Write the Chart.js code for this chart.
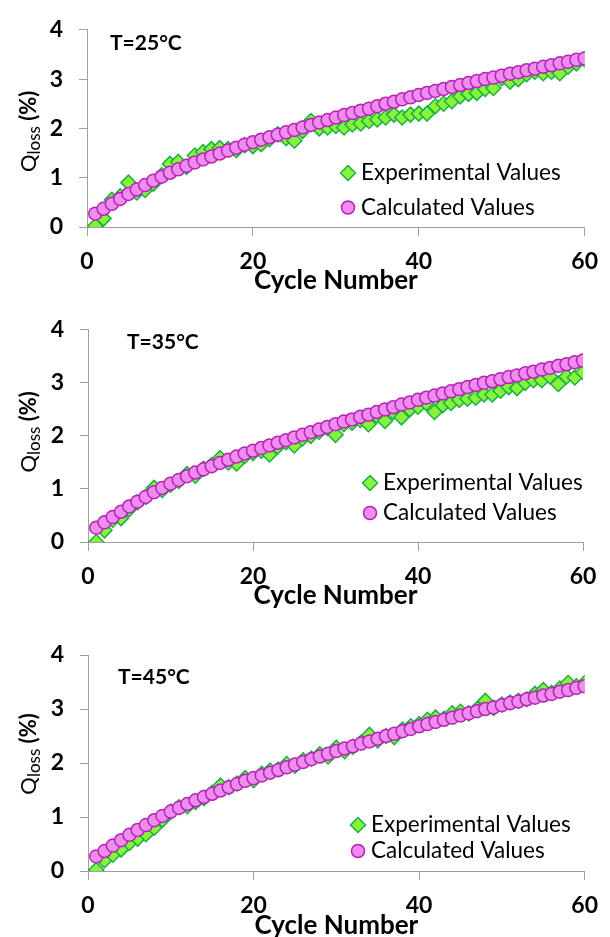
<!DOCTYPE html>
<html>
<head>
<meta charset="utf-8">
<script src="https://cdn.jsdelivr.net/npm/chart.js@4.4.0/dist/chart.umd.min.js"></script>
<style>
  html, body { margin: 0; padding: 0; background: #fff; overflow: hidden; }
  #page { position: relative; width: 610px; height: 937px; overflow: hidden; }
  canvas { position: absolute; left: 0; }
</style>
</head>
<body>
<div id="page">
  <canvas id="chart25" width="610" height="300" style="top:0px"></canvas>
  <canvas id="chart35" width="610" height="320" style="top:300px"></canvas>
  <canvas id="chart45" width="610" height="330" style="top:620px"></canvas>
</div>
<script>
/* ---------- datos ---------- */
const cycles = [1, 2, 3, 4, 5, 6, 7, 8, 9, 10, 11, 12, 13, 14, 15, 16, 17, 18, 19, 20,
  21, 22, 23, 24, 25, 26, 27, 28, 29, 30, 31, 32, 33, 34, 35, 36, 37, 38, 39, 40,
  41, 42, 43, 44, 45, 46, 47, 48, 49, 50, 51, 52, 53, 54, 55, 56, 57, 58, 59, 60];

const calculated = [0.27, 0.37, 0.47, 0.57, 0.67, 0.76, 0.85, 0.94, 1.02, 1.10,
  1.17, 1.24, 1.31, 1.37, 1.43, 1.49, 1.55, 1.61, 1.67, 1.72,
  1.77, 1.82, 1.87, 1.92, 1.97, 2.02, 2.07, 2.12, 2.17, 2.22,
  2.27, 2.31, 2.36, 2.40, 2.45, 2.50, 2.54, 2.59, 2.63, 2.68,
  2.72, 2.76, 2.80, 2.84, 2.88, 2.92, 2.96, 3.00, 3.03, 3.07,
  3.11, 3.14, 3.18, 3.21, 3.25, 3.28, 3.32, 3.35, 3.39, 3.42];

const experimental25 = [0.02, 0.17, 0.55, 0.62, 0.90, 0.70, 0.75, 0.88, 1.05, 1.28,
  1.32, 1.22, 1.45, 1.52, 1.58, 1.60, 1.58, 1.56, 1.66, 1.64,
  1.68, 1.78, 1.88, 1.80, 1.75, 1.95, 2.15, 2.00, 2.02, 2.05,
  2.02, 2.08, 2.10, 2.15, 2.18, 2.22, 2.28, 2.22, 2.28, 2.30,
  2.30, 2.45, 2.50, 2.55, 2.65, 2.70, 2.72, 2.80, 2.82, 3.02,
  2.95, 3.00, 3.10, 3.15, 3.12, 3.15, 3.12, 3.25, 3.32, 3.40];

const experimental35 = [0.00, 0.22, 0.42, 0.45, 0.62, 0.75, 0.85, 1.02, 0.98, 1.08,
  1.15, 1.28, 1.25, 1.38, 1.45, 1.58, 1.50, 1.48, 1.62, 1.68,
  1.72, 1.65, 1.80, 1.88, 1.82, 1.95, 2.00, 2.08, 2.15, 2.02,
  2.22, 2.25, 2.30, 2.22, 2.38, 2.28, 2.45, 2.35, 2.50, 2.55,
  2.62, 2.45, 2.58, 2.62, 2.68, 2.70, 2.72, 2.78, 2.78, 2.85,
  2.92, 2.90, 3.00, 3.05, 3.05, 3.12, 2.98, 3.12, 3.10, 3.20];

const experimental45 = [0.02, 0.20, 0.30, 0.40, 0.52, 0.60, 0.68, 0.80, 0.95, 1.10,
  1.18, 1.20, 1.28, 1.35, 1.45, 1.58, 1.55, 1.62, 1.72, 1.68,
  1.80, 1.86, 1.88, 1.98, 1.95, 2.05, 2.08, 2.16, 2.12, 2.28,
  2.22, 2.30, 2.38, 2.52, 2.42, 2.50, 2.48, 2.62, 2.68, 2.72,
  2.80, 2.84, 2.82, 2.92, 2.95, 2.92, 3.00, 3.15, 3.02, 3.08,
  3.12, 3.15, 3.18, 3.28, 3.35, 3.30, 3.38, 3.48, 3.42, 3.48];

const seriesNames = ["Experimental Values", "Calculated Values"];
const temperatures = ["T=25°C", "T=35°C", "T=45°C"];
const xRange = [0, 60];
const yRange = [0, 4];

/* ---------- estilo ---------- */
const FONT = "Lato, 'Open Sans', sans-serif";
const AXIS_GRAY = "#a0a0a0";

/* textos extra: titulo Y con subindice, etiqueta de temperatura y leyenda */
const extras = {
  id: "extras",
  afterDraw(chart, args, opts) {
    const ctx = chart.ctx;
    const area = chart.chartArea;
    ctx.save();

    // etiqueta T=..
    ctx.fillStyle = "#000";
    ctx.font = "bold 21px " + FONT;
    ctx.textAlign = "left";
    ctx.textBaseline = "middle";
    ctx.fillText(opts.label, opts.labelX, opts.labelY);

    // titulo del eje Y: Q_loss (%)
    ctx.save();
    ctx.translate(opts.titleX, (area.top + area.bottom) / 2 + opts.titleDy);
    ctx.rotate(-Math.PI / 2);
    ctx.textBaseline = "alphabetic";
    const parts = [
      { t: "Q", f: "22px " + FONT, dy: 8 },
      { t: "loss", f: "17px " + FONT, dy: 12 },
      { t: " (%)", f: "bold 22px " + FONT, dy: 8 },
    ];
    let total = 0;
    parts.forEach((p) => { ctx.font = p.f; p.w = ctx.measureText(p.t).width; total += p.w; });
    let x = -total / 2;
    parts.forEach((p) => { ctx.font = p.f; ctx.fillText(p.t, x, p.dy); x += p.w; });
    ctx.restore();

    // leyenda
    chart.data.datasets.forEach((ds, i) => {
      const y = opts.legendY + i * opts.legendGap;
      ctx.fillStyle = ds.backgroundColor;
      ctx.strokeStyle = ds.borderColor;
      ctx.lineWidth = ds.borderWidth;
      Chart.helpers.drawPoint(ctx, { pointStyle: ds.pointStyle, radius: ds.pointRadius, borderWidth: ds.borderWidth, rotation: 0 }, opts.legendX, y);
      ctx.fillStyle = "#000";
      ctx.font = "22.5px " + FONT;
      ctx.textAlign = "left";
      ctx.textBaseline = "middle";
      ctx.fillText(ds.label, opts.legendTextX, y);
    });
    ctx.restore();
  },
};

let makeChart = (id, experimental, label, p) => {
  const ctx = document.getElementById(id);
  const dataset = {
    datasets: [
      {
        label: seriesNames[0],
        data: cycles.map((c, i) => ({ x: c, y: experimental[i] })),
        pointStyle: "rectRot",
        pointRadius: 7.5,
        backgroundColor: "#86f53a",
        borderColor: "#1dae48",
        borderWidth: 1.5,
        showLine: false,
        order: 1,
      },
      {
        label: seriesNames[1],
        data: cycles.map((c, i) => ({ x: c, y: calculated[i] })),
        pointStyle: "circle",
        pointRadius: 6.5,
        backgroundColor: "#f08cf0",
        borderColor: "#b424b4",
        borderWidth: 1.5,
        showLine: false,
        order: 0,
      },
    ],
  };
  const config = {
    type: "scatter",
    data: dataset,
    options: {
      responsive: false,
      animation: false,
      events: [],
      layout: { padding: { left: 0, top: p.top, right: 610 - p.right, bottom: 0 } },
      plugins: {
        legend: { display: false },
        tooltip: { enabled: false },
        extras: {
          label: label,
          labelX: p.labelX, labelY: p.labelY,
          titleX: 28, titleDy: p.titleDy,
          legendX: p.legendX, legendY: p.legendY, legendGap: p.legendGap, legendTextX: p.legendX + 13,
        },
      },
      scales: {
        x: {
          type: "linear",
          min: xRange[0],
          max: xRange[1],
          afterFit: (s) => { s.height = p.height - p.bottom; },
          ticks: { stepSize: 20, padding: 12, color: "#000", font: { family: FONT, size: 23, weight: "bold" } },
          grid: { drawOnChartArea: false, tickLength: 9, color: AXIS_GRAY },
          border: { color: AXIS_GRAY },
          title: {
            display: true,
            text: "Cycle Number",
            color: "#000",
            font: { family: FONT, size: 26, weight: "bold" },
            padding: { top: 0, bottom: p.titlePad },
          },
        },
        y: {
          min: yRange[0],
          max: yRange[1],
          afterFit: (s) => { s.width = p.left; },
          ticks: { stepSize: 1, padding: 16, color: "#000", font: { family: FONT, size: 23, weight: "bold" } },
          grid: { drawOnChartArea: false, tickLength: 8, color: AXIS_GRAY },
          border: { color: AXIS_GRAY },
        },
      },
    },
    plugins: [extras],
  };
  return new Chart(ctx, config);
};

makeChart("chart25", experimental25, temperatures[0], {
  left: 87, right: 594, top: 25, bottom: 227, height: 300, titlePad: 3.4, titleDy: 3,
  labelX: 110, labelY: 43, legendX: 348, legendY: 173, legendGap: 34.5,
});
makeChart("chart35", experimental35, temperatures[1], {
  left: 88, right: 583, top: 24, bottom: 242, height: 320, titlePad: 8.4, titleDy: -4,
  labelX: 127, labelY: 42, legendX: 370, legendY: 183, legendGap: 30,
});
makeChart("chart45", experimental45, temperatures[2], {
  left: 88, right: 589, top: 35, bottom: 251, height: 330, titlePad: 8.4, titleDy: -9,
  labelX: 118, labelY: 57, legendX: 358, legendY: 205, legendGap: 26,
});
</script>
</body>
</html>
